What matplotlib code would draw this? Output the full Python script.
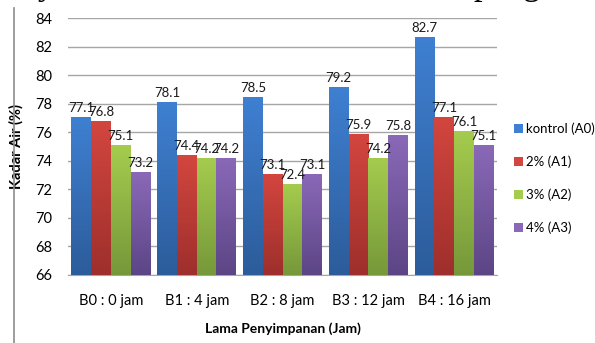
import matplotlib
matplotlib.use("Agg")
import matplotlib.pyplot as plt
import numpy as np
from matplotlib.colors import LinearSegmentedColormap
from matplotlib.lines import Line2D
from matplotlib.patches import Patch

categories = ["B0 : 0 jam", "B1 : 4 jam", "B2 : 8 jam", "B3 : 12 jam", "B4 : 16 jam"]
series_names = ["kontrol (A0)", "2% (A1)", "3% (A2)", "4% (A3)"]
kontrol = [77.1, 78.1, 78.5, 79.2, 82.7]
a1 = [76.8, 74.4, 73.1, 75.9, 77.1]
a2 = [75.1, 74.2, 72.4, 74.2, 76.1]
a3 = [73.2, 74.2, 73.1, 75.8, 75.1]
yticks = [66, 68, 70, 72, 74, 76, 78, 80, 82, 84]

# (top, bottom) colours of each series' gradient fill
colors = [("#3f80d2", "#2c5c9a"),
          ("#d3463f", "#9e2f2c"),
          ("#a5cc4e", "#76983a"),
          ("#8a69b8", "#5c4585")]

plt.rcParams["font.family"] = ["Lato", "DejaVu Sans"]

fig = plt.figure(figsize=(5.95, 3.43), dpi=100)
ax = fig.add_axes([68 / 595, 1 - 275 / 343, 429 / 595, 257 / 343])

ymin, ymax = 66, 84
width = 0.23
x = np.arange(len(categories))
grad = np.linspace(1, 0, 256).reshape(-1, 1)

for i, vals in enumerate([kontrol, a1, a2, a3]):
    offs = x + (i - 1.5) * width
    bars = ax.bar(offs, np.array(vals) - ymin, width, bottom=ymin,
                  color=colors[i][1], zorder=3, linewidth=0)
    cmap = LinearSegmentedColormap.from_list(f"g{i}", [colors[i][1], colors[i][0]])
    for b, v in zip(bars, vals):
        im = ax.imshow(grad, cmap=cmap, aspect="auto", zorder=4,
                       extent=[b.get_x(), b.get_x() + width, ymin, v])
        im.set_clip_path(b)
        ax.annotate(f"{v}", (b.get_x() + width / 2, v), xytext=(0, 2),
                    textcoords="offset points", ha="center", va="bottom",
                    fontsize=9.5, color="#1a1a1a", zorder=5)

ax.set_xlim(-0.5, len(categories) - 0.5)
ax.set_ylim(ymin, ymax)
ax.set_yticks(yticks)
ax.set_xticks(x)
ax.set_xticklabels(categories, fontsize=9.5)
ax.tick_params(axis="both", length=0, labelsize=10.5)
ax.tick_params(axis="x", pad=14)
ax.tick_params(axis="y", pad=11)
ax.grid(axis="y", color="#a6a6a6", linewidth=1, zorder=0)
for s in ["top", "right", "left"]:
    ax.spines[s].set_visible(False)
ax.spines["bottom"].set_color("#a6a6a6")

ax.set_ylabel("Kadar Air (%)", fontsize=10.5, fontweight="bold", labelpad=9)
ax.set_xlabel("Lama Penyimpanan (Jam)", fontsize=10, fontweight="bold", labelpad=10)

handles = [Patch(facecolor=c[0], edgecolor="none") for c in colors]
fig.legend(handles, series_names, loc="upper left",
           bbox_to_anchor=(511 / 595, 1 - 120 / 343), frameon=False,
           fontsize=9.5, handlelength=0.7, handleheight=0.7, handletextpad=0.25,
           labelspacing=1.55, borderaxespad=0, borderpad=0.2)

# page border line and the text line above the figure
fig.add_artist(Line2D([13.5 / 595, 13.5 / 595], [0, 1 - 8 / 343],
                      transform=fig.transFigure, color="#8c8c8c", linewidth=1.2))
fig.text(38 / 595, 1 + 6 / 343, "y", family="Liberation Serif",
         fontsize=25, va="baseline", ha="left", color="black")
fig.text(474 / 595, 1 + 6 / 343, "pengar", family="Liberation Serif",
         fontsize=25, va="baseline", ha="left", color="black")

fig.savefig("out.png", dpi=100)
